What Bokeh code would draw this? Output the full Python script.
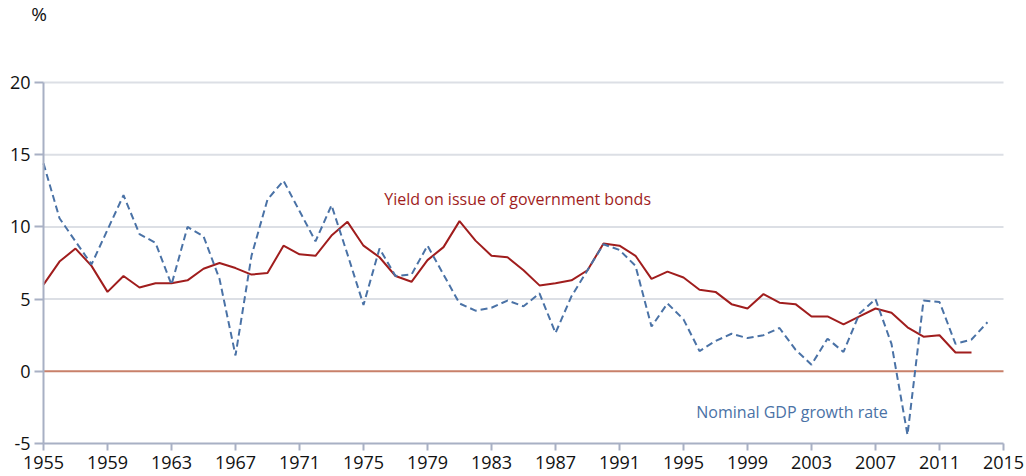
from bokeh.plotting import figure
from bokeh.models import FixedTicker, Label
from bokeh.embed import file_html
from bokeh.resources import INLINE

years = list(range(1955, 2015))
gdp_growth = [14.4, 10.6, 9.0, 7.4, 9.8, 12.2, 9.5, 8.9, 6.0, 10.0,
              9.35, 6.4, 1.1, 8.0, 11.9, 13.2, 11.1, 9.0, 11.5, 8.1,
              4.6, 8.5, 6.6, 6.7, 8.7, 6.7, 4.7, 4.2, 4.4, 4.9,
              4.5, 5.4, 2.65, 5.2, 7.0, 8.8, 8.4, 7.3, 3.1, 4.7,
              3.6, 1.4, 2.1, 2.6, 2.3, 2.5, 3.0, 1.5, 0.46, 2.26,
              1.34, 4.0, 5.0, 1.9, -4.4, 4.9, 4.8, 1.9, 2.2, 3.4]
yield_years = list(range(1955, 2014))
bond_yield = [6.0, 7.6, 8.5, 7.3, 5.5, 6.6, 5.8, 6.1, 6.1, 6.3,
              7.1, 7.5, 7.15, 6.7, 6.8, 8.7, 8.1, 8.0, 9.4, 10.35,
              8.7, 7.9, 6.6, 6.2, 7.7, 8.6, 10.4, 9.05, 8.0, 7.9,
              7.0, 5.95, 6.1, 6.3, 7.0, 8.85, 8.7, 8.0, 6.4, 6.9,
              6.5, 5.65, 5.5, 4.65, 4.35, 5.35, 4.75, 4.65, 3.8, 3.8,
              3.25, 3.8, 4.35, 4.05, 3.05, 2.4, 2.5, 1.3, 1.3]
x_ticks = list(range(1955, 2016, 4))
y_ticks = [-5, 0, 5, 10, 15, 20]
grid_values = [5, 10, 15, 20]
x_start, x_end = 1955, 2015
y_start, y_end = -5, 20

FONT = "Open Sans"
AXIS_COL = "#A8B0C4"
GRID_COL = "#DCDFE5"
RED = "#A01D1D"
BLUE = "#4A72A6"
ZERO_COL = "#C8806A"

# The frame covers the whole canvas; both axes are pinned inside it
p = figure(width=1026, height=476, x_range=(1952.3125, 2016.4375),
           y_range=(-7.285, 25.68),
           output_backend="svg", toolbar_location=None,
           min_border_left=0, min_border_top=0, min_border_right=0,
           min_border_bottom=0)
p.outline_line_color = None
p.background_fill_color = "white"

p.xaxis.ticker = FixedTicker(ticks=x_ticks)
p.xaxis.bounds = (x_start, x_end)
p.xaxis.fixed_location = y_start
p.yaxis.ticker = FixedTicker(ticks=y_ticks)
p.yaxis.bounds = (y_start, y_end)
p.yaxis.fixed_location = x_start
p.yaxis.major_label_overrides = {-5: "-5"}
for ax in (p.xaxis, p.yaxis):
    ax.axis_line_color = AXIS_COL
    ax.axis_line_width = 2
    ax.major_tick_line_color = AXIS_COL
    ax.major_tick_line_width = 2
    ax.major_tick_in = 0
    ax.minor_tick_line_color = None
    ax.major_label_text_font = FONT
    ax.major_label_text_font_size = "18px"
    ax.major_label_text_color = "#111111"
p.xaxis.major_tick_out = 7
p.yaxis.major_tick_out = 9
p.xaxis.major_label_standoff = 5
p.yaxis.major_label_standoff = 4

p.xgrid.grid_line_color = None
p.ygrid.grid_line_color = None

# horizontal gridlines and the zero line, spanning the year axis only
p.segment(x0=[x_start] * len(grid_values), x1=[x_end] * len(grid_values),
          y0=grid_values, y1=grid_values, line_color=GRID_COL, line_width=2)
p.segment(x0=[x_start], x1=[x_end], y0=[0], y1=[0], line_color=ZERO_COL, line_width=2)

p.line(yield_years, bond_yield, line_color=RED, line_width=2)
p.line(years, gdp_growth, line_color=BLUE, line_width=2, line_dash="7 4")

p.add_layout(Label(x=1976.3, y=11.9, text="Yield on issue of government bonds",
                   text_font=FONT, text_font_size="16px", text_color=RED,
                   text_baseline="middle"))
p.add_layout(Label(x=1995.8, y=-2.8, text="Nominal GDP growth rate",
                   text_font=FONT, text_font_size="16px", text_color=BLUE,
                   text_baseline="middle"))
p.add_layout(Label(x=1954.72, y=24.72, text="%",
                   text_font=FONT, text_font_size="19px", text_color="#111111",
                   text_baseline="middle", text_align="center"))

open("out.html", "w").write(file_html(p, INLINE))
